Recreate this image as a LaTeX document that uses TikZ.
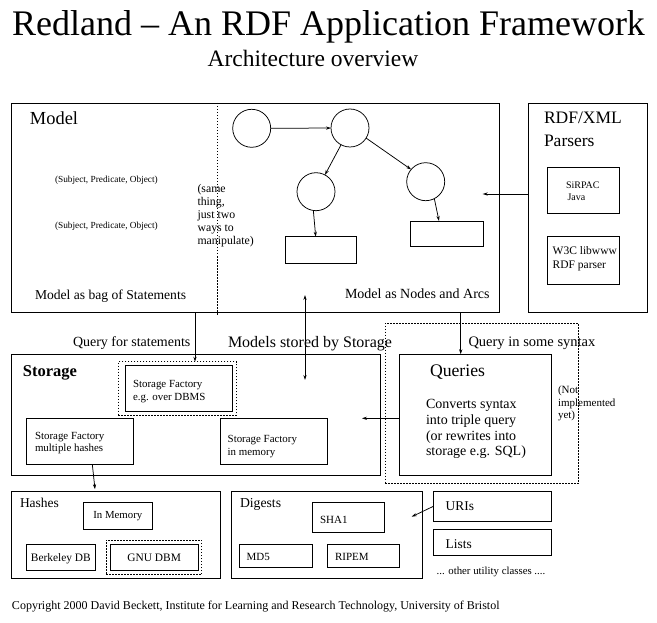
\documentclass[tikz,border=0pt]{standalone}
\usepackage{fontspec}
\setmainfont{Liberation Serif}
\usetikzlibrary{arrows.meta,fit}
\newcommand\sz[2]{\fontsize{#1}{#2}\selectfont}
\begin{document}
\begin{tikzpicture}[x=1pt,y=-1pt,
  txt/.style={inner sep=0pt, outer sep=0pt, anchor=base west},
  box/.style={draw, inner sep=0pt, outer sep=0pt, line width=0.75pt},
  dotbox/.style={draw, dash pattern=on 1.5pt off 1.5pt, inner sep=0pt, outer sep=0pt, line width=0.75pt},
  arr/.style={line width=0.75pt, -{Stealth[length=5pt,width=3.2pt]}},
  darr/.style={line width=0.75pt, {Stealth[length=5pt,width=3.2pt]}-{Stealth[length=5pt,width=3.2pt]}},
  circ/.style={circle, draw, minimum size=38pt, inner sep=0pt, outer sep=0pt, line width=0.75pt}]
\useasboundingbox (0,0) rectangle (657,623);

% titles
\node[txt, anchor=base] (title) at (328.5,36) {\sz{36}{40}Redland -- An RDF Application Framework};
\node[txt, anchor=base] (subtitle) at (313,67) {\sz{23.5}{26}Architecture overview};

% Model
\node[box, fit={(11.5,103) (499,312.3)}] (model) {};
\draw[dash pattern=on 1.5pt off 1.5pt, line width=0.75pt] (217,103) coordinate (dv1) -- (217,315) coordinate (dv2);
\node[txt] (modeltitle) at (30,125) {\sz{18.4}{20}Model};
\node[txt] (spo1) at (55,183) {\sz{9.3}{11}(Subject, Predicate, Object)};
\node[txt] (spo2) at (55,229) {\sz{9.3}{11}(Subject, Predicate, Object)};
\node[txt, align=left, anchor=north west, font=\sz{11.8}{13}] (same) at (197.5,184.5) {(same\\thing,\\just two\\ways to\\manipulate)};
\node[txt] (bag) at (35,300) {\sz{13.6}{15}Model as bag of Statements};
\node[txt] (arcs) at (345,299) {\sz{14}{15}Model as Nodes and Arcs};

\node[circ] (c1) at (251.7,128.3) {};
\node[circ] (c2) at (350,128) {};
\node[circ] (c3) at (316,191.7) {};
\node[circ] (c4) at (425.7,181.7) {};
\node[box, fit={(285.7,236.7) (356.7,263.3)}] (r1) {};
\node[box, fit={(410.7,221) (483.3,246.7)}] (r2) {};
\draw[arr] (c1) -- (c2);
\draw[arr] (c2) -- (c3);
\draw[arr] (c2.-32) -- (c4.140);
\draw[arr] (c3.262) -- ([xshift=30pt]r1.north west);
\draw[arr] (c4.-63) -- ([xshift=28.3pt]r2.north west);

% Parsers
\node[box, fit={(528,103) (647,312.3)}] (parsers) {};
\node[txt] (rdfxml) at (544,124) {\sz{17.5}{19}RDF/XML};
\node[txt] (parserstxt) at (544,147) {\sz{17.5}{19}Parsers};
\node[box, fit={(547.7,167.7) (619,213.3)}] (sirpac) {};
\node[txt] (sirpactxt) at (566,189) {\sz{10}{12}SiRPAC};
\node[txt] (javatxt) at (567.5,201) {\sz{10}{12}Java};
\node[box, fit={(547.7,236.7) (619,284.3)}] (w3c) {};
\node[txt] (w3ctxt) at (552.7,255) {\sz{11.5}{13}W3C libwww};
\node[txt] (rdfptxt) at (552.7,268.5) {\sz{11.5}{13}RDF parser};
\coordinate (pin) at (482.7,194);
\draw[arr] (parsers.west |- pin) -- (pin);

% Storage
\node[box, fit={(11.7,354.3) (380,475)}] (storage) {};
\node[txt] (storagetxt) at (23,377) {\sz{16.5}{18}\bfseries Storage};
\node[dotbox, fit={(118.3,361.7) (236.7,415)}] (dbmsdot) {};
\node[box, fit={(125,365) (232.3,411)}] (dbms) {};
\node[txt] (dbms1) at (133,387) {\sz{10.9}{12}Storage Factory};
\node[txt] (dbms2) at (133,400) {\sz{10.9}{12}e.g. over DBMS};
\node[box, fit={(26,418.3) (133.3,464.3)}] (mh) {};
\node[txt] (mh1) at (35,439.5) {\sz{10.9}{12}Storage Factory};
\node[txt] (mh2) at (35,451.5) {\sz{10.9}{12}multiple hashes};
\node[box, fit={(220,418.3) (327.3,464.3)}] (mem) {};
\node[txt] (mem1) at (227.7,442) {\sz{10.9}{12}Storage Factory};
\node[txt] (mem2) at (227.7,455) {\sz{10.9}{12}in memory};

\node[txt] (qstat) at (73,346) {\sz{14}{15}Query for statements};
\node[txt] (mstored) at (228,348) {\sz{16}{17}Models stored by Storage};
\node[txt] (qsyntax) at (468.5,347) {\sz{14.5}{16}Query in some syntax};

% Queries
\node[dotbox, fit={(385,323.3) (578.3,483.3)}] (qdot) {};
\node[box, fit={(399.3,354.3) (551.7,475)}] (queries) {};
\node[txt] (queriestxt) at (430,377) {\sz{17.7}{19}Queries};
\node[txt] (conv1) at (426,408) {\sz{14}{16}Converts syntax};
\node[txt] (conv2) at (426,424) {\sz{14}{16}into triple query};
\node[txt] (conv3) at (426,440) {\sz{14}{16}(or rewrites into};
\node[txt] (conv4) at (426,455.5) {\sz{14}{16}storage e.g. SQL)};
\node[txt] (not1) at (558,393.5) {\sz{11}{12}(Not};
\node[txt] (not2) at (558,406) {\sz{11}{12}implemented};
\node[txt] (not3) at (558,418.5) {\sz{11}{12}yet)};

% connectors between layers
\coordinate (qcol) at (195,0);
\draw[arr] (model.south -| qcol) -- (dbmsdot.north -| qcol);
\coordinate (ms1) at (305,295);
\coordinate (ms2) at (305,380);
\draw[darr] (ms1) -- (ms2);
\coordinate (qqcol) at (460.7,0);
\draw[arr] (model.south -| qqcol) -- (queries.north -| qqcol);
\coordinate (qin) at (362,418.3);
\draw[arr] (queries.west |- qin) -- (qin);

% Hashes
\node[box, fit={(11.7,491.7) (220,578.3)}] (hashes) {};
\node[txt] (hashestxt) at (20,507) {\sz{13.5}{15}Hashes};
\node[box, fit={(83.3,502.7) (152.3,529.3)}] (inmem) {};
\node[txt, anchor=base] (inmemtxt) at (inmem.center |- 0,518.5) {\sz{10.8}{12}In Memory};
\node[box, fit={(26,544.3) (95.7,570.7)}] (bdb) {};
\node[txt, anchor=base] (bdbtxt) at (bdb.center |- 0,561) {\sz{11.4}{13}Berkeley DB};
\node[dotbox, fit={(106,540) (201.7,574.3)}] (gnudot) {};
\node[box, fit={(110,544) (198.3,570)}] (gnu) {};
\node[txt, anchor=base] (gnutxt) at (gnu.center |- 0,561) {\sz{11.4}{13}GNU DBM};
\draw[arr] ([xshift=66.3pt]mh.south west) -- ([xshift=83.3pt,yshift=2.5pt]hashes.north west);

% Digests
\node[box, fit={(231.7,491.7) (422.3,578.3)}] (digests) {};
\node[txt] (digeststxt) at (240,507) {\sz{13.7}{15}Digests};
\node[box, fit={(312.3,502.7) (384.3,532.3)}] (sha1) {};
\node[txt] (sha1txt) at (320,523) {\sz{11}{12}SHA1};
\node[box, fit={(239,544.3) (312.3,567.7)}] (md5) {};
\node[txt] (md5txt) at (246.7,560) {\sz{11}{12}MD5};
\node[box, fit={(327.3,544.3) (399,567.7)}] (ripem) {};
\node[txt] (ripemtxt) at (335,560) {\sz{11}{12}RIPEM};

% utilities
\node[box, fit={(433.3,491) (551.7,521.7)}] (uris) {};
\node[txt] (uristxt) at (445.7,510.5) {\sz{13.4}{15}URIs};
\node[box, fit={(433.3,529.3) (551.7,555)}] (lists) {};
\node[txt] (liststxt) at (445.7,548.5) {\sz{13.4}{15}Lists};
\node[txt] (other) at (436.7,574) {\sz{10.8}{12}... other utility classes ....};
\coordinate (upin) at (411.7,516.7);
\draw[arr] (uris.west) -- (upin);

% copyright
\node[txt] (copy) at (12,609) {\sz{12}{13}Copyright 2000 David Beckett, Institute for Learning and Research Technology, University of Bristol};
\end{tikzpicture}
\end{document}
